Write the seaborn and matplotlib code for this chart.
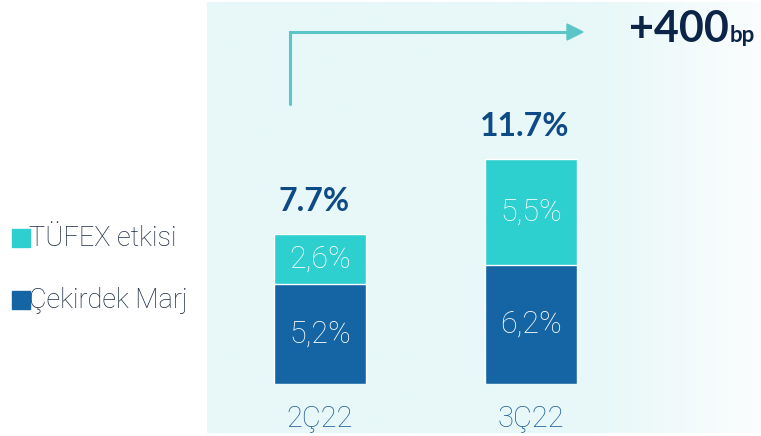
import numpy as np
import pandas as pd
import seaborn as sns
import matplotlib.pyplot as plt
from matplotlib.patches import Rectangle, Polygon
from matplotlib.lines import Line2D

# Data
quarters = ["2Ç22", "3Ç22"]
core_margin = [5.2, 6.2]
tufex_effect = [2.6, 5.5]
total_labels = ["7.7%", "11.7%"]
core_labels = ["5,2%", "6,2%"]
tufex_labels = ["2,6%", "5,5%"]
legend_names = ["TÜFEX etkisi", "Çekirdek Marj"]
change_text = "+400"
change_unit = "bp"

TEAL = "#2ecfcf"
BLUE = "#1565a5"

W, H = 761, 436


def px(x):
    return x / W


def py(y):
    return 1 - y / H


sns.set_theme(style="white")
plt.rcParams["font.family"] = ["Roboto", "DejaVu Sans"]
BOLD = ["Lato", "DejaVu Sans"]

fig = plt.figure(figsize=(W / 100, H / 100), dpi=100)
fig.patch.set_facecolor("white")

# Background panel with a soft fade to white on the right
bg = fig.add_axes([px(207), py(433), px(761) - px(207), py(2) - py(433)])
grad = np.ones(256)
cut = int(256 * (600 - 207) / 554)
grad[cut:] = np.linspace(1, 0, 256 - cut)
start = np.array([232, 248, 248]) / 255
end = np.array([251, 253, 254]) / 255
img = start[None, :] * grad[:, None] + end[None, :] * (1 - grad[:, None])
bg.imshow(img[None, :, :], aspect="auto", extent=[0, 1, 0, 1])
bg.axis("off")

# Bars
ax = fig.add_axes([px(207), py(384), px(761) - px(207), py(2) - py(384)])
ax.patch.set_alpha(0)
df = pd.DataFrame({
    "quarter": quarters,
    "core": core_margin,
    "total": np.array(core_margin) + np.array(tufex_effect),
})
bar_w = 92 / 211
sns.barplot(data=df, x="quarter", y="total", color=TEAL, width=bar_w,
            saturation=1, ax=ax)
sns.barplot(data=df, x="quarter", y="core", color=BLUE, width=bar_w,
            saturation=1, ax=ax)

ax.set_xlim(-113 / 211, 441 / 211)
ax.set_ylim(0, 382 / 19.2)
sns.despine(ax=ax, left=True, bottom=True)
ax.set_yticks([])
ax.set_xlabel("")
ax.set_ylabel("")
ax.tick_params(axis="x", length=0, pad=15, labelsize=21, labelcolor="#1e5f97")
for t in ax.get_xticklabels():
    t.set_fontweight("light")

for i in range(len(quarters)):
    c, t = core_margin[i], tufex_effect[i]
    ax.text(i, c / 2, core_labels[i], ha="center", va="center",
            color="white", fontsize=22, fontweight="light")
    ax.text(i, c + t / 2, tufex_labels[i], ha="center", va="center",
            color="white", fontsize=22, fontweight="light")
    ax.text(i - 0.03, c + t + 1.7, total_labels[i], ha="center", va="center",
            color="#0e4a86", fontsize=23, fontweight="bold", family=BOLD)

# Legend drawn on the left
leg_colors = [TEAL, BLUE]
leg_y = [238, 300]
for name, col, yc in zip(legend_names, leg_colors, leg_y):
    fig.add_artist(Rectangle((px(12), py(yc + 9)), px(18), py(yc - 9) - py(yc + 9),
                             transform=fig.transFigure, color=col))
    fig.text(px(29), py(yc), name, ha="left", va="center", fontsize=19.5,
             fontweight="light", color="#1a2a44")

# Arrow showing the change
arrow_col = "#5cc6c6"
fig.add_artist(Line2D([px(290), px(290), px(569)], [py(104), py(32), py(32)],
                      transform=fig.transFigure, color=arrow_col, lw=2.2,
                      solid_joinstyle="miter"))
fig.add_artist(Polygon([(px(567), py(24)), (px(583), py(32)), (px(567), py(40))],
                       closed=True, transform=fig.transFigure, color=arrow_col))
big = fig.text(px(629), py(42), change_text, ha="left", va="baseline", fontsize=31,
               fontweight="bold", color="#0b2447", family=BOLD)
fig.canvas.draw()
bb = big.get_window_extent()
fig.text(bb.x1 / W + px(1), py(42), change_unit, ha="left", va="baseline",
         fontsize=16, fontweight="bold", color="#0b2447", family=BOLD)

fig.savefig("out.png", dpi=100)
